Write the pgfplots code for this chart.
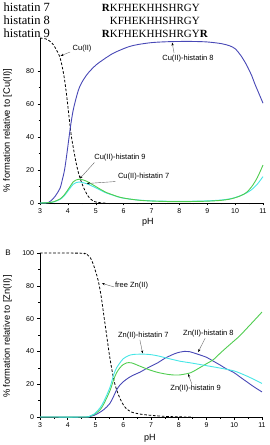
\documentclass[border=0pt]{standalone}
\usepackage{pgfplots}
\pgfplotsset{compat=1.18}
\usepackage{fontspec}
\setmainfont{Liberation Sans}
\newfontfamily\serif{Liberation Serif}
\usetikzlibrary{arrows.meta}
\definecolor{c8}{RGB}{72,72,182}
\definecolor{c9}{RGB}{80,205,80}
\definecolor{c7}{RGB}{70,230,230}

\pgfplotstableread{
x y
3.0 100
3.2 99.5
3.4 97.5
3.55 94
3.72 88
3.85 78
3.95 66
4.05 51
4.12 41
4.2 33
4.3 24
4.4 17
4.5 12
4.6 8
4.7 4.8
4.8 2.6
4.9 1.3
5.0 0.6
5.2 0.1
5.4 0
}\cufree

\pgfplotstableread{
x y
3.0 0
3.3 0.3
3.48 2.8
3.6 5.5
3.72 9
3.8 14
3.88 20
3.95 28
4.02 37
4.1 47
4.2 57
4.38 68.5
4.55 74.5
4.74 79
5.0 83.5
5.28 87
5.6 90.5
5.88 92.7
6.2 94.8
6.5 96
7.0 97.2
7.5 97.7
8.0 97.9
8.5 97.9
9.0 97.6
9.5 96.6
9.8 95.3
10.0 93.5
10.2 89.5
10.4 84
10.5 80.6
10.6 77
10.7 72.5
10.8 68.5
10.9 64.5
11.0 60.5
}\cuh

\pgfplotstableread{
x y
3.0 0
3.3 0.2
3.5 0.8
3.72 2.5
3.85 4.5
3.96 7
4.08 10
4.19 12.8
4.3 14
4.4 14.4
4.5 14.2
4.67 13.2
4.8 12
5.0 10
5.2 8
5.39 6.3
5.6 5
5.8 3.8
6.0 3
6.3 2.2
6.6 1.6
7.0 1.2
7.5 0.9
8.0 0.8
8.5 0.9
9.0 1.1
9.5 1.6
9.8 2.3
10.0 3.2
10.2 4.4
10.4 6.3
10.6 10
10.8 15.5
11.0 23
}\cuhn

\pgfplotstableread{
x y
3.0 0
3.3 0.2
3.5 0.7
3.72 2.2
3.85 4
3.96 6.3
4.08 9
4.19 11.3
4.3 12.4
4.4 12.7
4.5 12.5
4.67 11.7
4.8 10.8
5.0 9.2
5.2 7.5
5.39 6
5.6 4.8
5.8 3.7
6.0 2.9
6.3 2.2
6.6 1.7
7.0 1.3
7.5 1.1
8.0 1.0
8.5 1.1
9.0 1.3
9.5 1.8
9.8 2.5
10.0 3.3
10.2 4.5
10.4 6
10.6 8.2
10.8 11.5
11.0 16
}\cuhs

\pgfplotstableread{
x y
3.0 100
4.5 99.9
4.6 99.6
4.7 99
4.8 97.5
4.9 94
5.0 89
5.1 83
5.2 74
5.3 62
5.4 50
5.5 38
5.6 28
5.7 20
5.84 13
6.0 7.5
6.12 5
6.3 3
6.6 1.8
7.0 1
7.5 0.4
8.0 0.1
8.5 0
}\znfree

\pgfplotstableread{
x y
3.0 0
4.6 0
4.8 0.3
4.95 1
5.1 2.3
5.3 4.5
5.52 8.3
5.65 12.5
5.76 16.5
5.88 19.5
6.0 21.5
6.2 24
6.4 25.8
6.6 27.3
6.8 29.2
7.0 31
7.24 33
7.5 35.8
7.84 38.5
8.05 39.6
8.2 40
8.4 39.8
8.52 39.2
8.7 38.2
9.0 36.4
9.25 34
9.49 31.7
9.7 29.5
9.97 27.3
10.2 24.5
10.45 21.5
10.7 18.5
11.0 15.3
}\znh

\pgfplotstableread{
x y
3.0 0
4.6 0
4.8 0.5
4.95 1.5
5.16 4.3
5.3 8
5.52 16
5.66 23
5.76 27
5.88 30
6.0 32
6.12 33
6.3 33
6.6 31
6.9 29
7.24 27.2
7.6 26
7.84 25.6
8.0 25.6
8.2 26.1
8.43 27
8.7 29.5
9.0 32.5
9.25 35
9.5 39
9.75 42.8
10.0 46.5
10.2 49.5
10.45 54
10.7 58.5
11.0 64
}\znhn

\pgfplotstableread{
x y
3.0 0
4.6 0
4.8 0.6
4.95 1.8
5.16 5.5
5.3 9.5
5.52 18
5.66 26
5.76 30
5.88 33
6.0 35.5
6.2 37.5
6.4 38.2
6.76 38.3
7.0 38
7.24 37.3
7.6 35.8
8.05 34
8.43 33
9.0 31.3
9.5 29.8
9.97 28.2
10.2 26.8
10.45 25
10.7 23
11.0 20.5
}\znhs

\pgfplotsset{
 myax/.style={
  scale only axis, axis lines*=left, tick align=outside,
  xmin=3,xmax=11,ymin=0,ymax=100,
  xtick={3,...,11}, minor x tick num=1, minor y tick num=1,
  major tick length=2.5pt, minor tick length=1.5pt,
  tick style={black, line width=0.5pt},
  axis line style={line width=0.6pt},
  ticklabel style={font=\fontsize{7}{8}\selectfont},
  /pgf/number format/assume math mode=true,
  xlabel style={font=\fontsize{9}{10}\selectfont},
  ylabel style={font=\fontsize{9.3}{10}\selectfont},
  clip=false,
  every axis plot/.append style={line width=0.9pt, no markers, smooth},
 },
}
\tikzset{
 ann/.style={font=\fontsize{7.5}{9}\selectfont, inner sep=0.5pt},
 arr/.style={black!60, line width=0.4pt, -{Stealth[length=3pt,width=2.2pt,black]}},
 dsh/.style={black, line width=0.8pt, dash pattern=on 2.6pt off 1.8pt},
}

\begin{document}
\begin{tikzpicture}
\useasboundingbox (0,0) rectangle (270pt,445pt);

% Panel A
\begin{axis}[myax, at={(40pt,242pt)}, anchor=south west,
  width=223pt, height=165pt,
  ytick={0,20,40,60,80},
  xlabel={pH}, xlabel style={at={(axis description cs:0.484,-0.12)}, anchor=center},
  ylabel={\% formation relative to [Cu(II)]},
  ylabel style={at={(axis description cs:-0.146,0.44)}, anchor=center},
]
\addplot[dsh] table[x=x,y=y] {\cufree};
\addplot[c8] table[x=x,y=y] {\cuh};
\addplot[c7] table[x=x,y=y] {\cuhs};
\addplot[c9] table[x=x,y=y] {\cuhn};
\node[ann] at (axis cs:4.51,93.3) {Cu(II)};
\draw[arr] (axis cs:4.08,91.5) -- (axis cs:3.74,89.2);
\node[ann] at (axis cs:8.31,87.3) {Cu(II)-histatin 8};
\draw[arr] (axis cs:7.81,90.9) -- (axis cs:7.74,97.2);
\node[ann] at (axis cs:5.87,27.3) {Cu(II)-histatin 9};
\draw[arr] (axis cs:4.95,24.5) -- (axis cs:4.43,14.8);
\node[ann] at (axis cs:6.72,16.2) {Cu(II)-histatin 7};
\draw[arr] (axis cs:5.7,13.0) -- (axis cs:4.68,11.8);
\end{axis}

% Panel B
\begin{axis}[myax, at={(40pt,28pt)}, anchor=south west,
  width=222pt, height=164pt,
  ytick={0,20,40,60,80,100},
  xlabel={pH}, xlabel style={at={(axis description cs:0.495,-0.128)}, anchor=center},
  ylabel={\% formation relative to [Zn(II)]},
  ylabel style={at={(axis description cs:-0.146,0.49)}, anchor=center},
]
\addplot[dsh] table[x=x,y=y] {\znfree};
\addplot[c8] table[x=x,y=y] {\znh};
\addplot[c9] table[x=x,y=y] {\znhn};
\addplot[c7] table[x=x,y=y] {\znhs};
\node[ann] at (axis cs:6.30,80) {free Zn(II)};
\draw[arr] (axis cs:5.67,79.3) -- (axis cs:5.23,81.5);
\node[ann] at (axis cs:6.72,49.5) {Zn(II)-histatin 7};
\draw[arr] (axis cs:6.6,47) -- (axis cs:6.7,38.8);
\node[ann] at (axis cs:9.07,51) {Zn(II)-histatin 8};
\draw[arr] (axis cs:8.95,48) -- (axis cs:8.7,39.6);
\node[ann] at (axis cs:8.61,17.6) {Zn(II)-histatin 9};
\draw[arr] (axis cs:8.47,20.2) -- (axis cs:8.34,26.2);
\end{axis}

\node[font=\fontsize{8}{9}\selectfont] at (8pt,192pt) {B};

% Sequences
\begin{scope}[every node/.style={anchor=base west, inner sep=0pt}]
\node[font=\serif\fontsize{12.5}{13}\selectfont] at (3.5pt,433.5pt) {histatin 7};
\node[font=\serif\fontsize{12.5}{13}\selectfont] at (3.5pt,420.5pt) {histatin 8};
\node[font=\serif\fontsize{12.5}{13}\selectfont] at (3.5pt,407.5pt) {histatin 9};
\node[font=\serif\fontsize{11}{12}\selectfont] at (101.7pt,433.5pt) {\textbf{R}KFHEKHHSHRGY};
\node[font=\serif\fontsize{11}{12}\selectfont] at (101.7pt,420.5pt) {\phantom{\textbf{R}}KFHEKHHSHRGY};
\node[font=\serif\fontsize{11}{12}\selectfont] at (101.7pt,407.5pt) {\textbf{R}KFHEKHHSHRGY\textbf{R}};
\end{scope}
\end{tikzpicture}
\end{document}
